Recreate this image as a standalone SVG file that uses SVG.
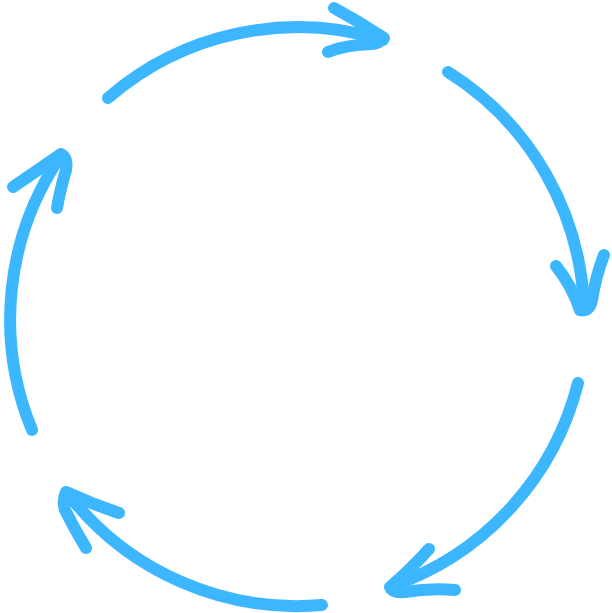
<svg xmlns="http://www.w3.org/2000/svg" width="612" height="613" viewBox="0 0 612 613">
<style>
.s{fill:none;stroke:#3cb6ff;stroke-width:12;stroke-linecap:round;stroke-linejoin:round}
</style>
<rect width="612" height="613" fill="#fff"/>
<g id="arrow1" class="s">
<path d="M108,98 A290,290 0 0 1 383,40"/>
<path d="M334,8 Q360,22 384,38 Q378,44 372,44 Q345,45 328,52"/>
</g>
<g id="arrow2" class="s">
<path d="M448,72 A290,290 0 0 1 584,310"/>
<path d="M556,266 Q572,286 580,310 Q590,312 592,300 Q596,275 604,255"/>
</g>
<g id="arrow3" class="s">
<path d="M578,383 A290,290 0 0 1 392,586"/>
<path d="M429,549 Q410,570 390,587 Q392,593 405,592 Q430,588 455,590"/>
</g>
<g id="arrow4" class="s">
<path d="M322,605 A290,290 0 0 1 68,494"/>
<path d="M119,513 Q92,504 66,492 Q62,500 65,510 Q75,530 86,548"/>
</g>
<g id="arrow5" class="s">
<path d="M32,430 A290,290 0 0 1 60,157"/>
<path d="M13,187 Q38,170 61,154 Q68,158 66,170 Q60,190 57,208"/>
</g>
</svg>
